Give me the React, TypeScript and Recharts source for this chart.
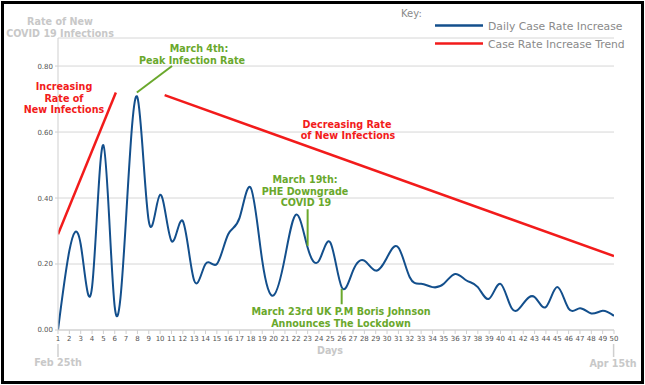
import { CartesianGrid, Line, LineChart, ReferenceLine, XAxis, YAxis } from "recharts";

// day index (Feb 25th = 1 ... Apr 15th = 50)
const days = [
  1, 2, 3, 4, 5, 6, 7, 8, 9, 10, 11, 12, 13, 14, 15, 16, 17, 18, 19, 20, 21, 22, 23, 24, 25,
  26, 27, 28, 29, 30, 31, 32, 33, 34, 35, 36, 37, 38, 39, 40, 41, 42, 43, 44, 45, 46, 47, 48, 49, 50,
];

// daily case rate increase
const dailyRate = [
  0.0, 0.24, 0.26, 0.13, 0.56, 0.07, 0.34, 0.705, 0.33, 0.41, 0.27, 0.33, 0.15, 0.2, 0.2, 0.29, 0.34,
  0.43, 0.21, 0.105, 0.22, 0.35, 0.25, 0.21, 0.265, 0.13, 0.18, 0.21, 0.18, 0.22, 0.25, 0.16, 0.14, 0.13,
  0.14, 0.17, 0.15, 0.13, 0.095, 0.14, 0.065, 0.08, 0.1, 0.07, 0.13, 0.065, 0.066, 0.05, 0.058, 0.043,
];

const trendUp = [
  { day: 1, trend: 0.29 },
  { day: 6.1, trend: 0.72 },
];
const trendDown = [
  { day: 10.4, trend: 0.712 },
  { day: 50, trend: 0.224 },
];

const yTicks = [0, 0.2, 0.4, 0.6, 0.8];

// green pointers (day, value)
const peakPointer = [
  { x: 7.95, y: 0.72 },
  { x: 11.05, y: 0.8 },
];
const phePointer = [
  { x: 23, y: 0.255 },
  { x: 23, y: 0.366 },
];
const lockdownPointer = [
  { x: 26, y: 0.078 },
  { x: 26, y: 0.125 },
];

const data = days.map((d, i) => ({ day: d, rate: dailyRate[i] }));

const BLUE = "#134f8c";
const RED = "#f21b1b";
const GREEN = "#6aa82c";
const FONT = "'DejaVu Sans', Verdana, sans-serif";

export default function App() {
  return (
    <div style={{ position: "absolute", left: 0, top: 0, width: 645, height: 385, background: "#fff" }}>
      <LineChart
        width={645}
        height={385}
        data={data}
        margin={{ top: 38, right: 31, left: 18, bottom: 35 }}
      >
        <CartesianGrid vertical={false} stroke="#d6d6d6" />
        <XAxis
          dataKey="day"
          type="number"
          domain={[1, 50]}
          ticks={days}
          interval={0}
          allowDataOverflow
          height={20}
          stroke="#cfcfcf"
          tickSize={4}
          tick={{ fontSize: 7, fill: "#555", fontFamily: FONT }}
        />
        <YAxis
          type="number"
          domain={[0, 0.885]}
          ticks={yTicks}
          allowDataOverflow
          width={40}
          stroke="#cfcfcf"
          tickSize={3}
          tickFormatter={(v: number) => v.toFixed(2)}
          tick={{ fontSize: 7, fill: "#555", fontFamily: FONT }}
        />
        <Line
          type="natural"
          dataKey="rate"
          stroke={BLUE}
          strokeWidth={2}
          dot={false}
          isAnimationActive={false}
        />
        <Line
          data={trendUp}
          dataKey="trend"
          stroke={RED}
          strokeWidth={2.5}
          dot={false}
          isAnimationActive={false}
        />
        <Line
          data={trendDown}
          dataKey="trend"
          stroke={RED}
          strokeWidth={2.5}
          dot={false}
          isAnimationActive={false}
        />
        <ReferenceLine segment={peakPointer} stroke={GREEN} strokeWidth={2} ifOverflow="visible" />
        <ReferenceLine segment={phePointer} stroke={GREEN} strokeWidth={2} ifOverflow="visible" />
        <ReferenceLine segment={lockdownPointer} stroke={GREEN} strokeWidth={2} ifOverflow="visible" />
      </LineChart>

      <svg
        width={645}
        height={385}
        style={{ position: "absolute", left: 0, top: 0, pointerEvents: "none" }}
        fontFamily={FONT}
      >
        <rect x={2.5} y={2.5} width={640} height={380} fill="none" stroke="#000" strokeWidth={3} />

        {/* y axis title */}
        <g fill="#c8c8c8" fontWeight="bold" fontSize={9.6} textAnchor="middle">
          <text x={60} y={25}>Rate of New</text>
          <text x={60} y={37}>COVID 19 Infections</text>
        </g>

        {/* key */}
        <text x={401} y={17} fontSize={10} fill="#8a8a8a">Key:</text>
        <line x1={435} y1={25.5} x2={483} y2={25.5} stroke={BLUE} strokeWidth={2.5} />
        <line x1={435} y1={43.5} x2={483} y2={43.5} stroke={RED} strokeWidth={2.5} />
        <text x={488} y={29.5} fontSize={10.8} fill="#8a8a8a">Daily Case Rate Increase</text>
        <text x={488} y={47.5} fontSize={10.8} fill="#8a8a8a">Case Rate Increase Trend</text>

        {/* red annotations */}
        <g fill={RED} fontWeight="bold" fontSize={9.6} textAnchor="middle">
          <text x={64} y={89.5}>Increasing</text>
          <text x={64} y={101.5}>Rate of</text>
          <text x={64} y={112.5}>New Infections</text>
          <text x={347} y={128}>Decreasing Rate</text>
          <text x={348} y={139}>of New Infections</text>
        </g>

        {/* green annotations */}
        <g fill={GREEN} fontWeight="bold" fontSize={9.6} textAnchor="middle">
          <text x={199} y={52}>March 4th:</text>
          <text x={192} y={64}>Peak Infection Rate</text>
          <text x={305} y={183}>March 19th:</text>
          <text x={305} y={194.5}>PHE Downgrade</text>
          <text x={306} y={205.5}>COVID 19</text>
          <text x={341} y={315}>March 23rd UK P.M Boris Johnson</text>
          <text x={341} y={327}>Announces The Lockdown</text>
        </g>

        {/* x axis annotations */}
        <g fill="#c8c8c8" fontWeight="bold" fontSize={9.6} textAnchor="middle">
          <text x={330} y={354}>Days</text>
          <text x={58} y={366}>Feb 25th</text>
          <text x={613} y={366.5}>Apr 15th</text>
        </g>
        <line x1={58} y1={344} x2={58} y2={357} stroke="#cfcfcf" strokeWidth={1.5} />
        <line x1={613.6} y1={344} x2={613.6} y2={357} stroke="#cfcfcf" strokeWidth={1.5} />
      </svg>
    </div>
  );
}
